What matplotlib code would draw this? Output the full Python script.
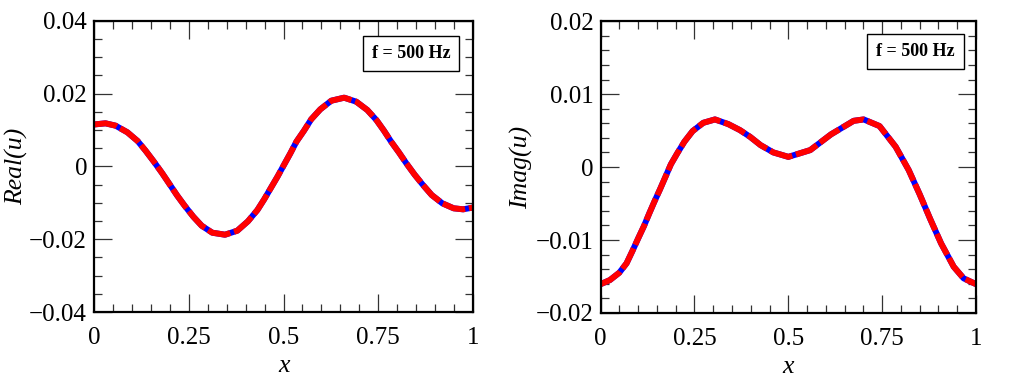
import matplotlib
matplotlib.use("Agg")
import matplotlib.pyplot as plt
from matplotlib.ticker import MultipleLocator, FuncFormatter

# Real part of u
x_real = [0.0, 0.0045, 0.0303, 0.057, 0.088, 0.115, 0.136, 0.158, 0.180, 0.199,
          0.219, 0.239, 0.262, 0.284, 0.312, 0.3456, 0.378, 0.406, 0.431, 0.449,
          0.466, 0.484, 0.499, 0.518, 0.534, 0.554, 0.573, 0.597, 0.626, 0.660,
          0.692, 0.721, 0.745, 0.765, 0.784, 0.805, 0.824, 0.846, 0.868, 0.891,
          0.919, 0.949, 0.974, 1.0]
real_u = [0.01150, 0.01155, 0.01182, 0.01117, 0.00935, 0.00696, 0.00430,
          0.00128, -0.00191, -0.00485, -0.00796, -0.01080, -0.01383, -0.01630,
          -0.01822, -0.01877, -0.01767, -0.01510, -0.01200, -0.00905, -0.00603,
          -0.00284, 0.00000, 0.00358, 0.00678, 0.00980, 0.01292, 0.01566,
          0.01803, 0.01886, 0.01776, 0.01548, 0.01273, 0.00980, 0.00677,
          0.00375, 0.00084, -0.00229, -0.00512, -0.00787, -0.01015, -0.01152,
          -0.01180, -0.01130]

# Imaginary part of u
x_imag = [0.0, 0.0248, 0.0496, 0.069, 0.085, 0.100, 0.1154, 0.1295, 0.143,
          0.158, 0.172, 0.187, 0.204, 0.223, 0.245, 0.2735, 0.3046, 0.340,
          0.371, 0.398, 0.426, 0.460, 0.500, 0.5585, 0.6136, 0.674, 0.7008,
          0.743, 0.786, 0.8207, 0.850, 0.878, 0.907, 0.9406, 0.967, 1.0]
imag_u = [-0.01605, -0.01548, -0.01448, -0.01319, -0.01146, -0.00977,
          -0.00808, -0.00635, -0.00475, -0.00306, -0.00141, 0.00037, 0.00188,
          0.00347, 0.00493, 0.00607, 0.00653, 0.00589, 0.00507, 0.00415,
          0.00301, 0.00201, 0.00140, 0.00233, 0.00448, 0.00634, 0.00653,
          0.00562, 0.00278, -0.00041, -0.00374, -0.00712, -0.01046, -0.01366,
          -0.01525, -0.01605]

x_ticks = [0, 0.25, 0.5, 0.75, 1]
x_tick_labels = ["0", "0.25", "0.5", "0.75", "1"]
note = "f = 500 Hz"

plt.rcParams["font.family"] = ["Liberation Serif", "DejaVu Serif"]


def minus_fmt(v, pos):
    if abs(v) < 1e-12:
        return "0"
    return f"{v:g}".replace("-", "\u2212")


def setup(ax, ylim, ymajor, yminor, ylabel, label_x, box_xy):
    ax.set_xlim(0, 1)
    ax.set_ylim(*ylim)
    ax.set_xticks(x_ticks)
    ax.set_xticklabels(x_tick_labels)
    ax.xaxis.set_minor_locator(MultipleLocator(0.05))
    ax.yaxis.set_major_locator(MultipleLocator(ymajor))
    ax.yaxis.set_minor_locator(MultipleLocator(yminor))
    ax.yaxis.set_major_formatter(FuncFormatter(minus_fmt))
    ax.tick_params(which="both", direction="in", top=True, right=True,
                   labelsize=18, width=0.9, color="#333333")
    ax.tick_params(which="major", length=13)
    ax.tick_params(which="minor", length=6)
    ax.tick_params(axis="x", which="major", pad=11)
    ax.tick_params(axis="y", which="major", pad=5)
    for sp in ax.spines.values():
        sp.set_linewidth(1.6)
    ax.set_xlabel("x", fontsize=18.5, style="italic", labelpad=4)
    ax.set_ylabel(ylabel, fontsize=18.5, style="italic")
    ax.yaxis.label.set_va("center")
    ax.yaxis.set_label_coords(label_x, 0.5)
    ax.text(*box_xy, note, transform=ax.transAxes, ha="center", va="center",
            fontsize=13, fontweight="bold",
            bbox=dict(boxstyle="square,pad=0.5", fc="white", ec="black", lw=1.0))


fig = plt.figure(figsize=(10.09, 3.78), dpi=100)
ax1 = fig.add_axes([0.0932, 0.1746, 0.3756, 0.7706])
ax2 = fig.add_axes([0.5953, 0.172, 0.372, 0.772])

for ax, xs, ys in [(ax1, x_real, real_u), (ax2, x_imag, imag_u)]:
    ax.plot(xs, ys, color="blue", lw=4.3, solid_capstyle="butt",
            solid_joinstyle="round")
    ax.plot(xs, ys, color="red", lw=4.3, linestyle=(0, (3.9, 0.65)),
            dash_capstyle="butt", dash_joinstyle="round")

setup(ax1, (-0.04, 0.04), 0.02, 0.005, "Real(u)", -0.205, (0.836, 0.887))
setup(ax2, (-0.02, 0.02), 0.01, 0.002, "Imag(u)", -0.2105, (0.839, 0.897))

fig.savefig("out.png", dpi=100)
